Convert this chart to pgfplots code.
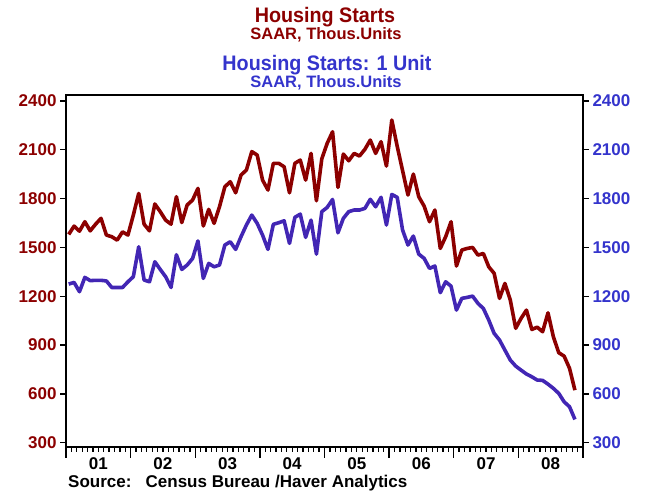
\documentclass[border=0pt]{standalone}
\usepackage{fontspec}
\setmainfont{Liberation Sans}
\usepackage{graphicx}
\usepackage{pgfplots}
\pgfplotsset{compat=1.18}
\usepackage{pgfplotstable}

\definecolor{hred}{RGB}{140,0,0}
\definecolor{hblue}{RGB}{66,38,180}
\definecolor{tblue}{RGB}{52,52,204}

\pgfplotstableread{
i tot one
0 1580 1275
1 1631 1285
2 1600 1228
3 1658 1316
4 1602 1296
5 1643 1298
6 1679 1298
7 1576 1294
8 1566 1254
9 1545 1254
10 1596 1254
11 1576 1289
12 1699 1320
13 1832 1504
14 1643 1300
15 1602 1289
16 1767 1412
17 1720 1365
18 1668 1320
19 1643 1254
20 1812 1455
21 1653 1365
22 1761 1392
23 1791 1432
24 1863 1540
25 1632 1310
26 1734 1402
27 1648 1381
28 1750 1392
29 1873 1515
30 1904 1535
31 1836 1488
32 1945 1566
33 1976 1638
34 2089 1699
35 2068 1648
36 1914 1576
37 1853 1488
38 2017 1642
39 2017 1652
40 1996 1664
41 1836 1525
42 2017 1685
43 2037 1705
44 1914 1562
45 2078 1668
46 1787 1459
47 2045 1720
48 2140 1746
49 2211 1795
50 1869 1590
51 2074 1679
52 2033 1720
53 2078 1730
54 2062 1730
55 2103 1740
56 2160 1796
57 2078 1750
58 2150 1808
59 2000 1638
60 2283 1826
61 2122 1808
62 1972 1607
63 1822 1515
64 1951 1570
65 1812 1459
66 1754 1433
67 1658 1371
68 1730 1386
69 1494 1222
70 1566 1289
71 1658 1262
72 1386 1115
73 1484 1187
74 1494 1193
75 1500 1201
76 1453 1156
77 1463 1125
78 1381 1054
79 1341 972
80 1187 931
81 1279 869
82 1177 808
83 1003 771
84 1064 746
85 1115 722
86 996 705
87 1010 685
88 982 683
89 1098 660
90 951 634
91 853 603
92 832 551
93 757 521
94 623 443
}\housing

\pgfplotsset{
  hbase/.style={
    at={(66pt,47pt)}, anchor=south west, scale only axis,
    width=517pt, height=352pt,
    xmin=-0.5, xmax=95.5, ymin=273.6, ymax=2437,
    tick align=outside,
    tick style={line width=1.3pt, black},
    axis line style={line width=1.6pt, black},
    /pgf/number format/assume math mode=true,
    /pgf/number format/1000 sep={},
    tick label style={font=\fontsize{17}{17}\selectfont\bfseries},
  }
}

\begin{document}
\begin{tikzpicture}[x=1pt,y=1pt]
\useasboundingbox (0,0) rectangle (647,494);

% frame, x ticks, red series
\begin{axis}[hbase,
  ytick=\empty,
  xtick={-0.5,11.5,...,95.5}, xticklabels={},
  minor x tick num=11,
  major tick length=11pt, minor tick length=5pt,
  extra x ticks={5.5,17.5,...,89.5},
  extra x tick labels={01,02,03,04,05,06,07,08},
  extra x tick style={major tick length=0pt, tick style={draw=none},
    xticklabel style={yshift=-7pt}},
  xtick pos=bottom,
]
\addplot[hred, line width=3.6pt, line join=round] table[x=i, y=tot] {\housing};
\end{axis}

% left y axis
\begin{axis}[hbase,
  hide x axis,
  axis y line*=left,
  ytick={300,600,...,2400},
  major tick length=6pt,
  yticklabel style={text=hred},
]
\end{axis}

% right y axis and blue series
\begin{axis}[hbase,
  hide x axis,
  axis y line*=right,
  ytick={300,600,...,2400},
  major tick length=6pt,
  yticklabel style={text=tblue},
]
\addplot[hblue, line width=3.6pt, line join=round] table[x=i, y=one] {\housing};
\end{axis}

\node[anchor=base, inner sep=0pt, text=hred, font=\fontsize{21}{21}\selectfont\bfseries] at (325,471.5) {\scalebox{0.94}[1]{Housing Starts}};
\node[anchor=base, inner sep=0pt, text=hred, font=\fontsize{16.5}{16.5}\selectfont\bfseries] at (326,454.8) {SAAR, Thous.Units};
\node[anchor=base, inner sep=0pt, text=tblue, font=\fontsize{21}{21}\selectfont\bfseries] at (327,423) {\scalebox{0.94}[1]{Housing Starts: 1 Unit}};
\node[anchor=base, inner sep=0pt, text=tblue, font=\fontsize{16.5}{16.5}\selectfont\bfseries] at (326,406.2) {SAAR, Thous.Units};
\node[anchor=base west, inner sep=0pt, font=\fontsize{17}{17}\selectfont\bfseries] at (68,6.5) {Source:\ \ \ Census Bureau /Haver Analytics};
\end{tikzpicture}
\end{document}
